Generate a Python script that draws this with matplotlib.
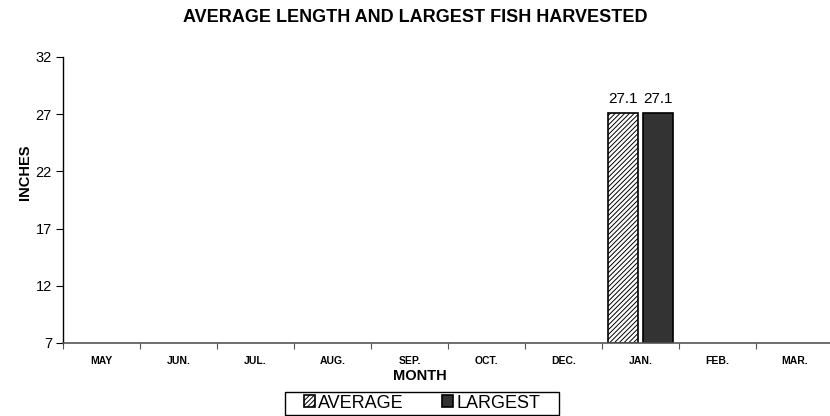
import matplotlib
matplotlib.use("Agg")
import matplotlib.pyplot as plt
from matplotlib.patches import Rectangle
import numpy as np

months = ["MAY", "JUN.", "JUL.", "AUG.", "SEP.", "OCT.", "DEC.", "JAN.", "FEB.", "MAR."]
average = [np.nan, np.nan, np.nan, np.nan, np.nan, np.nan, np.nan, 27.1, np.nan, np.nan]
largest = [np.nan, np.nan, np.nan, np.nan, np.nan, np.nan, np.nan, 27.1, np.nan, np.nan]
yticks = [7, 12, 17, 22, 27, 32]

plt.rcParams['font.family'] = ['Liberation Sans', 'DejaVu Sans']
plt.rcParams['hatch.color'] = '#777777'
plt.rcParams['hatch.linewidth'] = 0.7

fig = plt.figure(figsize=(8.3, 4.16), dpi=100)
ax = fig.add_axes([63/830, 1 - 343/416, 770/830, (343 - 57)/416])

x = np.arange(len(months))
w = 0.39
off = 0.225
b1 = ax.bar(x - off, np.array(average) - 7, w, bottom=7, color='white', edgecolor='black',
            hatch='///////', linewidth=1.2, label='AVERAGE')
b2 = ax.bar(x + off, np.array(largest) - 7, w, bottom=7, color='#333333', edgecolor='black',
            linewidth=1.2, label='LARGEST')

for xi, v in zip(x, average):
    if not np.isnan(v):
        ax.text(xi - off, v + 0.6, f"{v:.1f}", ha='center', va='bottom', fontsize=11)
for xi, v in zip(x, largest):
    if not np.isnan(v):
        ax.text(xi + off, v + 0.6, f"{v:.1f}", ha='center', va='bottom', fontsize=11)

ax.set_xlim(-0.5, len(months) - 0.5)
ax.set_ylim(7, 32)
ax.set_yticks(yticks)
ax.set_yticklabels([str(t) for t in yticks], fontsize=10.5)
ax.set_xticks(np.arange(len(months) + 1) - 0.5)
ax.set_xticklabels([])
ax.set_xticks(x, minor=True)
ax.set_xticklabels(months, minor=True, fontsize=7.5, fontweight='bold')
ax.tick_params(axis='x', which='minor', length=0, pad=9)
ax.tick_params(axis='x', which='major', length=4, direction='out', color='#555555')
ax.tick_params(axis='y', length=5, direction='out', pad=3)

ax.spines['top'].set_visible(False)
ax.spines['right'].set_visible(False)
ax.spines['bottom'].set_color('#555555')
ax.spines['bottom'].set_linewidth(1.2)
ax.spines['left'].set_linewidth(1.0)

fig.text(420/830, 1 - 376/416, "MONTH", ha='center', va='center', fontsize=10.5, fontweight='bold')
fig.text(25/830, 1 - 172/416, "INCHES", ha='center', va='center', rotation=90,
         fontsize=10.5, fontweight='bold')

fig.text(415/830, 1 - 18/416, "AVERAGE LENGTH AND LARGEST FISH HARVESTED", ha='center', va='center',
         fontsize=13, fontweight='bold')

leg = fig.legend(handles=[b1, b2], loc='center', bbox_to_anchor=(422/830, 1 - 403/416), ncol=2,
                 fontsize=13, frameon=False, handlelength=0.6,
                 handleheight=0.6, handletextpad=0.2, columnspacing=2.1, borderpad=0.1,
                 borderaxespad=0)
fig.patches.append(Rectangle((285/830, 1 - 415/416), 274/830, 23/416, transform=fig.transFigure,
                             fill=False, edgecolor='black', linewidth=1.0))

fig.savefig("out.png", dpi=100)
